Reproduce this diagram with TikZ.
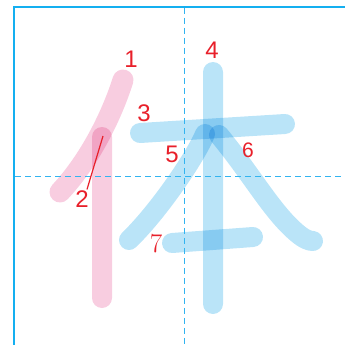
\documentclass[tikz,border=0pt]{standalone}
\usepackage{fontspec}
\setmainfont{Liberation Sans}
\newfontfamily\lmfont{Latin Modern Roman}
\definecolor{pinkstroke}{RGB}{248,205,224}
\definecolor{bluestroke}{RGB}{186,228,248}
\definecolor{framecol}{RGB}{20,175,240}
\definecolor{guidecol}{RGB}{50,180,240}
\definecolor{numred}{RGB}{232,32,42}
\tikzset{
  pinkline/.style={draw=pinkstroke, line width=20pt, line cap=round},
  blueline/.style={draw=bluestroke, line width=20pt, line cap=round},
  framerule/.style={draw=framecol, line width=2pt},
  guiderule/.style={draw=guidecol, line width=1pt, dash pattern=on 6pt off 4pt},
  num/.style={text=numred, font=\fontsize{24}{24}\selectfont, inner sep=0pt},
}
\begin{document}
\begin{tikzpicture}[x=1pt,y=-1pt]
\useasboundingbox (0,0) rectangle (345,345);
\begin{scope}[blend group=multiply]
  % stroke 1
  \draw[pinkline, line width=21pt] (123,80) .. controls (112,115) and (90,160) .. (60,192);
  % stroke 2
  \draw[pinkline] (102,137) -- (102,298);
  % stroke 3
  \draw[blueline] (140,133) -- (285,124);
  % stroke 4
  \draw[blueline] (213,72) -- (213,304);
  % stroke 5
  \draw[blueline] (205,134) .. controls (195,158) and (158,212) .. (129,240);
  % stroke 6
  \draw[blueline, line join=round] (219,135) .. controls (252,175) and (272,212) .. (297,233)
        .. controls (304,239) and (309,241) .. (313,241);
  % stroke 7
  \draw[blueline] (172,243) -- (253,237);
\end{scope}
% frame
\draw[framerule] (14,345) -- (14,7) -- (345,7);
% guides
\draw[guiderule] (184.5,8) -- (184.5,345);
\draw[guiderule] (15,176.5) -- (345,176.5);
% labels
\node[num] (n1) at (131,59) {1};
\node[num] (n2) at (82,199) {2};
\node[num] (n3) at (144,113) {3};
\node[num] (n4) at (212,50) {4};
\node[num] (n5) at (172,154) {5};
\node[num, font=\fontsize{21}{21}\selectfont] (n6) at (248,150) {6};
\node[num, font=\fontsize{27}{27}\lmfont] (n7) at (156,244) {7};
\coordinate (p2) at (103,136);
\draw[numred, line width=1.2pt] (n2.north) ++(5,-1) coordinate (q2) -- (p2);
\end{tikzpicture}
\end{document}
